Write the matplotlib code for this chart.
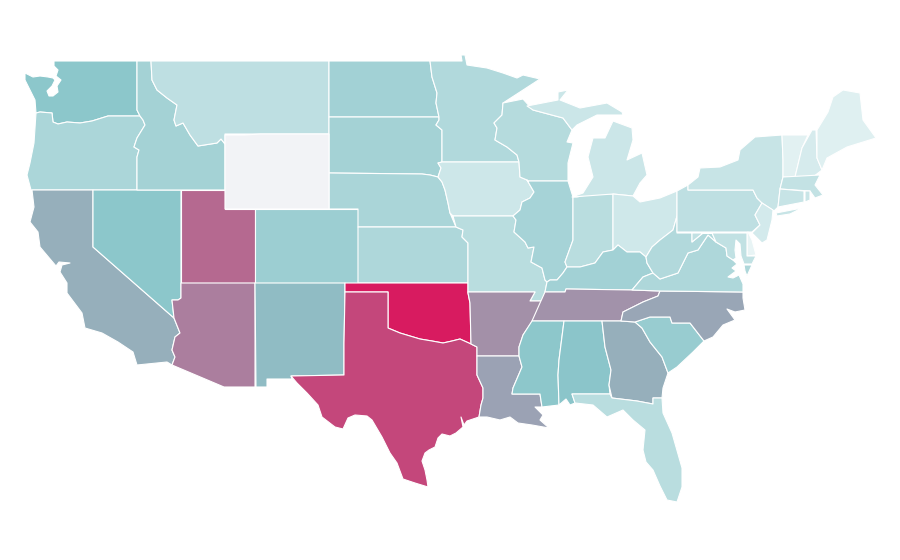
import numpy as np
import matplotlib
matplotlib.use("Agg")
import matplotlib.pyplot as plt
from matplotlib.colors import LinearSegmentedColormap, Normalize
from matplotlib.patches import Polygon

states = ["WA","OR","CA","NV","ID","MT","UT","AZ","CO","NM","ND","SD","NE","KS","OK","TX",
          "MN","IA","MO","AR","LA","WI","IL","IN","MI","OH","KY","TN","MS","AL","GA","FL",
          "SC","NC","VA","WV","PA","NY","VT","NH","ME","MA","CT","RI","NJ","DE","MD","WY"]
values = [49.5,34.5,57,49.5,38,25,77,71,42,53,39,38,35,33,100,87,
          32,18,28,66,60.5,30,37,28,19,17,39,65,49,50,57,28,
          44,59,33,31,25,21,8,14,9,23,21,20,15,5,24,np.nan]
palette = ["#f2f9fa", "#8bc6ca", "#d81b60"]
no_data = "#f2f3f6"

# State outlines in map units
shapes = {
"WA":[[(54,61),(137,61),(137,110),(139,114),(140,116),(108,116),(92,121),(80,123),(67,122),(58,124),(53,122),(52,113),(40,112),(36,113),(35,100),(30,90),(25,80),(25,73),(33,77),(40,76),(48,77),(53,78),(55,80),(52,86),(47,91),(49,96),(53,96),(58,92),(57,86),(61,80),(56,76),(58,70),(54,66)]],
"OR":[[(36,113),(40,112),(52,113),(53,122),(58,124),(67,122),(80,123),(92,121),(108,116),(140,116),(143,120),(145,125),(137,138),(134,147),(139,150),(137,157),(137,190),(31,190),(27,175),(30,163),(34,143)]],
"ID":[[(137,61),(151,61),(152,80),(157,90),(167,98),(177,105),(174,120),(176,126),(183,123),(190,135),(198,146),(217,143),(221,139),(225,144),(225,190),(137,190),(137,157),(139,150),(134,147),(137,138),(145,125),(143,120),(140,116),(139,114),(137,110)]],
"MT":[[(151,61),(329,61),(329,134),(225,134),(225,144),(221,139),(217,143),(198,146),(190,135),(183,123),(176,126),(174,120),(177,105),(167,98),(157,90),(152,80)]],
"ND":[[(329,61),(430,61),(432,77),(437,93),(436,103),(439,117),(329,117)]],
"SD":[[(329,117),(439,117),(439,120),(436,125),(442,130),(442,162),(438,163),(441,168),(438,177),(430,175),(422,174),(329,173)]],
"NE":[[(329,173),(422,174),(430,175),(438,177),(442,182),(445,190),(448,203),(450,213),(456,227),(358,227),(358,209),(329,209)]],
"CO":[[(255,209),(358,209),(358,283),(255,283)]],
"KS":[[(358,227),(456,227),(463,230),(462,237),(468,243),(468,283),(358,283)]],
"OK":[[(345,283),(468,283),(468,293),(470,303),(471,344),(460,339),(452,341),(443,343),(432,341),(420,339),(410,336),(400,333),(388,328),(388,292),(345,292)]],
"TX":[[(345,292),(388,292),(388,328),(400,333),(410,336),(420,339),(432,341),(443,343),(452,341),(460,339),(471,344),(477,347),(477,375),(483,388),(483,398),(481,405),(479,417),(467,421),(464,425),(461,417),(463,427),(456,433),(450,436),(442,434),(438,438),(435,447),(429,450),(425,453),(422,461),(425,470),(427,480),(428,487),(415,483),(403,479),(397,463),(390,453),(382,437),(372,420),(367,416),(355,415),(348,418),(343,429),(335,427),(322,417),(318,405),(307,393),(297,383),(291,376),(344,375),(344,343)]],
"NM":[[(255,283),(345,283),(345,292),(344,343),(344,375),(291,376),(292,379),(267,379),(267,387),(256,387)]],
"AZ":[[(181,283),(255,283),(255,387),(224,387),(172,365),(175,357),(172,350),(175,337),(180,333),(174,318),(172,300),(178,300),(181,298)]],
"UT":[[(181,190),(225,190),(225,209),(255,209),(255,283),(181,283)]],
"NV":[[(93,190),(181,190),(181,298),(178,300),(172,300),(174,318),(93,247)]],
"CA":[[(32,190),(93,190),(93,247),(174,318),(180,333),(175,337),(172,350),(175,357),(172,365),(167,362),(137,365),(133,352),(118,342),(102,333),(85,328),(82,313),(67,293),(67,283),(60,272),(62,265),(70,263),(59,262),(56,266),(40,247),(38,232),(30,222),(34,207)]],
"MN":[[(430,61),(462,61),(461,55),(465,55),(467,65),(487,68),(503,73),(517,78),(523,75),(540,79),(520,92),(503,103),(502,115),(494,123),(497,128),(495,140),(507,147),(517,155),(519,162),(442,162),(442,130),(436,125),(439,120),(439,117),(436,103),(437,93),(432,77)]],
"IA":[[(442,162),(519,162),(520,177),(527,180),(534,192),(530,198),(522,202),(520,210),(513,216),(453,216),(450,213),(448,203),(445,190),(442,182),(438,177),(441,168),(438,163)]],
"MO":[[(453,216),(513,216),(516,220),(514,232),(525,242),(528,248),(534,247),(531,262),(542,268),(545,280),(547,282),(545,292),(542,301),(530,301),(535,292),(468,292),(468,243),(462,237),(463,230),(456,227)]],
"AR":[[(468,292),(535,292),(530,301),(542,301),(533,320),(523,335),(519,347),(519,356),(477,356),(477,347),(471,344),(470,303),(468,293)]],
"LA":[[(477,356),(519,356),(522,367),(513,388),(512,394),(540,394),(542,407),(535,407),(543,415),(540,420),(549,428),(532,425),(518,423),(510,417),(500,420),(487,417),(479,417),(481,405),(483,398),(483,388),(477,375)]],
"MS":[[(532,321),(564,321),(559,360),(558,375),(559,405),(542,407),(540,394),(512,394),(513,388),(522,367),(519,356),(519,347),(523,335)]],
"TN":[[(532,321),(540,303),(545,292),(565,292),(566,289),(632,290),(660,291),(658,296),(643,302),(623,312),(621,321)]],
"KY":[[(545,292),(547,282),(550,280),(557,280),(563,273),(567,267),(580,267),(595,263),(603,252),(613,250),(618,245),(627,252),(640,252),(646,257),(647,263),(653,273),(643,277),(632,290),(566,289),(565,292)]],
"IL":[[(528,181),(568,181),(573,197),(573,240),(565,262),(567,267),(563,273),(557,280),(550,280),(547,282),(545,280),(542,268),(531,262),(534,247),(528,248),(525,242),(514,232),(516,220),(513,216),(520,210),(522,202),(530,198),(534,192),(527,180)]],
"IN":[[(573,197),(577,197),(590,194),(613,194),(613,250),(603,252),(595,263),(580,267),(567,267),(565,262),(573,240)]],
"OH":[[(613,194),(633,196),(640,202),(660,198),(677,191),(677,216),(673,230),(660,240),(652,247),(646,257),(640,252),(627,252),(618,245),(613,250)]],
"WV":[[(677,216),(677,233),(692,233),(692,242),(703,233),(712,233),(716,242),(708,235),(698,250),(688,253),(678,273),(660,279),(653,273),(647,263),(646,257),(652,247),(660,240),(673,230)]],
"PA":[[(677,191),(688,185),(688,190),(753,190),(757,198),(762,203),(755,215),(760,225),(752,232),(677,232)]],
"NY":[[(688,185),(698,177),(700,168),(720,167),(738,160),(740,150),(755,137),(782,135),(783,160),(783,177),(780,189),(778,207),(774,211),(762,203),(757,198),(753,190),(688,190)],
      [(776,213),(802,208),(790,214),(777,216)]],
"NJ":[[(762,203),(773,210),(772,220),(767,240),(762,243),(752,233),(760,225),(755,215)]],
"DE":[[(747,233),(748,232),(752,240),(756,255),(747,256)]],
"MD":[[(692,233),(747,233),(747,256),(756,256),(752,264),(744,264),(741,256),(740,244),(736,240),(735,250),(736,258),(733,260),(727,256),(726,248),(716,242),(712,233),(703,233),(692,242)]],
"VA":[[(632,290),(660,291),(743,292),(743,284),(739,275),(733,278),(728,277),(736,271),(732,268),(737,264),(733,260),(727,256),(726,248),(716,242),(708,235),(698,250),(688,253),(678,273),(660,279),(653,273),(643,277)],
      [(744,265),(752,265),(747,276),(745,271)]],
"NC":[[(658,296),(660,291),(743,292),(743,298),(745,310),(735,312),(727,309),(735,320),(723,325),(713,337),(704,341),(690,323),(672,323),(670,317),(650,317),(635,322),(621,321),(623,312),(643,302)]],
"SC":[[(635,322),(650,317),(670,317),(672,323),(690,323),(704,341),(693,352),(677,367),(668,373),(662,357),(650,342),(642,328)]],
"GA":[[(602,321),(621,321),(635,322),(642,328),(650,342),(662,357),(668,373),(663,388),(662,398),(653,398),(653,404),(637,401),(612,398),(609,385),(611,370),(605,347)]],
"AL":[[(564,321),(602,321),(605,347),(611,370),(609,385),(610,394),(572,394),(575,403),(570,405),(566,399),(559,405),(558,375),(559,360)]],
"FL":[[(572,394),(610,394),(612,398),(637,401),(653,404),(653,398),(662,398),(663,413),(672,433),(682,468),(682,487),(677,502),(667,500),(660,486),(653,470),(646,462),(643,450),(645,430),(633,420),(623,410),(607,417),(593,405),(575,403)]],
"WI":[[(503,103),(523,99),(533,110),(563,118),(572,130),(567,142),(573,143),(568,163),(568,181),(528,181),(527,180),(520,177),(519,162),(517,155),(507,147),(495,140),(497,128),(494,123),(502,115)]],
"MI":[[(527,106),(558,100),(558,92),(568,90),(560,100),(580,108),(607,103),(622,112),(623,115),(597,115),(577,125),(572,130),(563,118),(533,110)],
      [(572,197),(583,193),(593,177),(588,157),(593,138),(605,138),(613,121),(632,128),(633,140),(627,160),(642,153),(647,175),(640,183),(633,196),(613,194)]],
"VT":[[(782,135),(808,135),(802,148),(795,177),(783,177),(783,160)]],
"NH":[[(812,130),(816,130),(817,158),(822,170),(813,177),(795,177),(802,148)]],
"ME":[[(817,130),(828,112),(833,97),(843,90),(860,93),(863,120),(876,138),(847,147),(827,158),(822,170),(817,158)]],
"MA":[[(783,177),(820,175),(815,185),(823,195),(815,198),(810,191),(780,189)]],
"CT":[[(780,189),(804,191),(804,202),(778,207)]],
"RI":[[(805,191),(810,191),(810,200),(805,202)]],
"WY":[[(225,135),(245,135),(260,134),(329,134),(329,209),(225,209)]],
}

cmap = LinearSegmentedColormap.from_list("rate", palette)
norm = Normalize(0, 100)

fig = plt.figure(figsize=(9, 5.6), dpi=100)
ax = fig.add_axes([0, 0, 1, 1])
for name, value in zip(states, values):
    face = no_data if np.isnan(value) else cmap(norm(value))
    for ring in shapes[name]:
        ax.add_patch(Polygon(ring, closed=True, facecolor=face, edgecolor="white",
                             linewidth=0.8, joinstyle="round", label=name))
ax.set_xlim(0, 900)
ax.set_ylim(560, 0)
ax.axis("off")
fig.savefig("out.png", dpi=100, facecolor="white")
